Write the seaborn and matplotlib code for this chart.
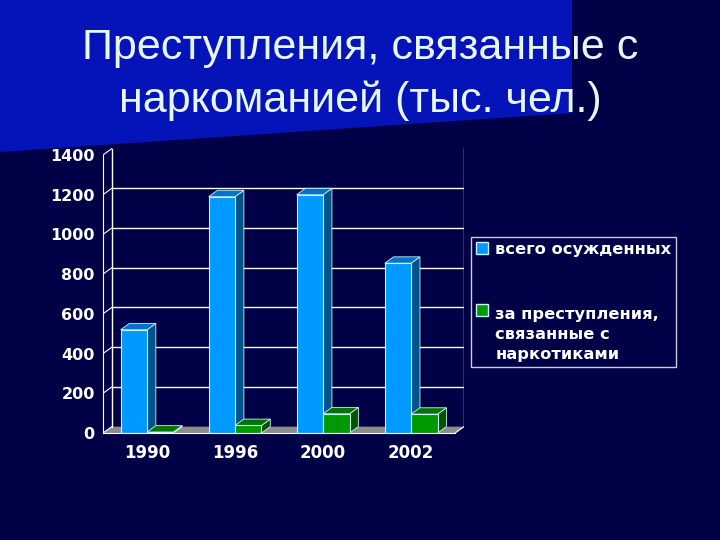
import pandas as pd
import matplotlib
matplotlib.use('Agg')
import matplotlib.pyplot as plt
import seaborn as sns
from matplotlib.patches import Polygon, Patch, Rectangle
from matplotlib.legend_handler import HandlerPatch

# Данные
years = ['1990', '1996', '2000', '2002']
total_convicted = [520, 1190, 1200, 855]
drug_convicted = [5, 38, 97, 95]
series_names = ['всего осужденных', 'за преступления,\nсвязанные с\nнаркотиками']
y_ticks = [0, 200, 400, 600, 800, 1000, 1200, 1400]

title_line1 = 'Преступления, связанные с'
title_line2 = 'наркоманией (тыс. чел.)'

BG_DARK = '#000046'
BG_BAND = '#0414b8'
BLUE = '#0099ff'
GREEN = '#009900'
FLOOR = '#8c8c8c'
EDGE = '#cfefff'
DX, DY = 0.1, 32  # глубина псевдо-3D

df = pd.DataFrame({
    'year': years * 2,
    'value': total_convicted + drug_convicted,
    'series': [series_names[0]] * len(years) + [series_names[1]] * len(years),
})

sns.set_style('white')
plt.rcParams['font.family'] = ['DejaVu Sans']

fig = plt.figure(figsize=(7.2, 5.4), dpi=100)
fig.patch.set_facecolor(BG_DARK)

# Синяя полоса в верхнем левом углу
band = Polygon([(0, 1), (572 / 720, 1), (572 / 720, 1 - 113 / 540), (0, 1 - 152 / 540)],
               closed=True, transform=fig.transFigure, facecolor=BG_BAND, edgecolor='none', zorder=0)
fig.patches.append(band)

title_font = ['Liberation Sans', 'DejaVu Sans']
fig.text(0.5, 1 - 59 / 540, title_line1, ha='center', va='baseline', color='#e8f6ff',
         fontsize=31, family=title_font)
fig.text(0.5, 1 - 112 / 540, title_line2, ha='center', va='baseline', color='#e8f6ff',
         fontsize=31, family=title_font)

ax = fig.add_axes([103 / 720, 107 / 540, 361 / 720, 285 / 540])
ax.set_facecolor('none')

sns.barplot(data=df, x='year', y='value', hue='series', palette=[BLUE, GREEN],
            width=0.6, dodge=True, ax=ax, legend=False, zorder=3, saturation=1,
            edgecolor=EDGE, linewidth=0.8)

bars = list(ax.patches)
x_left, x_right = -0.5, len(years) - 0.5
ax.set_xlim(x_left, x_right + DX)
ax.set_ylim(0, y_ticks[-1] + DY + 3)

# Пол
ax.add_patch(Polygon([(x_left, 0), (x_right, 0), (x_right + DX, DY), (x_left + DX, DY)],
                     closed=True, facecolor=FLOOR, edgecolor='none', zorder=1))

# Сетка на задней стенке
for t in y_ticks[1:-1]:
    ax.plot([x_left + DX, x_right + DX], [t + DY, t + DY], color='white', lw=1, zorder=1.5)
for t in y_ticks:
    ax.plot([x_left, x_left + DX], [t, t + DY], color='white', lw=0.8, zorder=1.5)
ax.plot([x_left + DX, x_left + DX], [DY, y_ticks[-1] + DY], color='white', lw=1, zorder=1.5)
ax.plot([x_right + DX, x_right + DX], [DY, y_ticks[-1] + DY + 3], color='white', lw=1, zorder=1.5)
ax.plot([x_right, x_right + DX], [0, DY], color='white', lw=0.8, zorder=1.5)

# Боковые и верхние грани столбцов
for p in bars:
    x0, w, h = p.get_x(), p.get_width(), p.get_height()
    r, g, b, _ = p.get_facecolor()
    side = (r * 0.4, g * 0.55, b * 0.55)
    top = (r * 0.6, g * 0.75, b * 0.8)
    ax.add_patch(Polygon([(x0 + w, 0), (x0 + w + DX, DY), (x0 + w + DX, h + DY), (x0 + w, h)],
                         closed=True, facecolor=side, edgecolor=EDGE, lw=0.6, zorder=2))
    ax.add_patch(Polygon([(x0, h), (x0 + w, h), (x0 + w + DX, h + DY), (x0 + DX, h + DY)],
                         closed=True, facecolor=top, edgecolor=EDGE, lw=0.6, zorder=2))

# Оси
ax.set_yticks(y_ticks)
ax.set_yticklabels([str(t) for t in y_ticks], fontsize=11.5, fontweight='bold', color='white')
ax.set_xticks(range(len(years)))
ax.set_xticklabels(years, fontsize=12, fontweight='bold', color='white')
ax.set_xticks([i + 0.5 for i in range(len(years) - 1)], minor=True)
ax.tick_params(axis='y', colors='white', length=4, width=1, direction='out', pad=2)
ax.tick_params(axis='x', which='major', length=0, pad=8, labelcolor='white')
ax.tick_params(axis='x', which='minor', colors='white', length=4, width=1, direction='out')
ax.set_xlabel('')
ax.set_ylabel('')
for s in ['top', 'right']:
    ax.spines[s].set_visible(False)
for s in ['left', 'bottom']:
    ax.spines[s].set_color('white')
    ax.spines[s].set_zorder(4)
ax.spines['bottom'].set_bounds(x_left, x_right)
ax.spines['left'].set_bounds(0, y_ticks[-1])

LEG_LINESPACING = 1.4


# Маркер легенды у первой строки подписи
def top_square(legend, orig_handle, xdescent, ydescent, width, height, fontsize):
    n_lines = orig_handle.get_label().count('\n') if orig_handle.get_label() else 0
    shift = n_lines * fontsize * 0.55 * LEG_LINESPACING
    return Rectangle((-xdescent, -ydescent + shift), width, height)


handles = [Patch(facecolor=BLUE, edgecolor=EDGE, label=series_names[0]),
           Patch(facecolor=GREEN, edgecolor=EDGE, label=series_names[1])]
leg = fig.legend(handles, series_names, loc='upper left', bbox_to_anchor=(471 / 720, 1 - 237 / 540),
                 frameon=True, fancybox=False, handlelength=0.75, handleheight=0.75,
                 handletextpad=0.45, labelspacing=3.1, borderpad=0.3, borderaxespad=0,
                 handler_map={Patch: HandlerPatch(patch_func=top_square)},
                 prop={'size': 11.7, 'weight': 'bold'})
leg.get_frame().set_facecolor('none')
leg.get_frame().set_edgecolor('white')
leg.get_frame().set_linewidth(1)
for txt in leg.get_texts():
    txt.set_color('white')
    txt.set_linespacing(LEG_LINESPACING)

fig.savefig('out.png', dpi=100, facecolor=fig.get_facecolor())
